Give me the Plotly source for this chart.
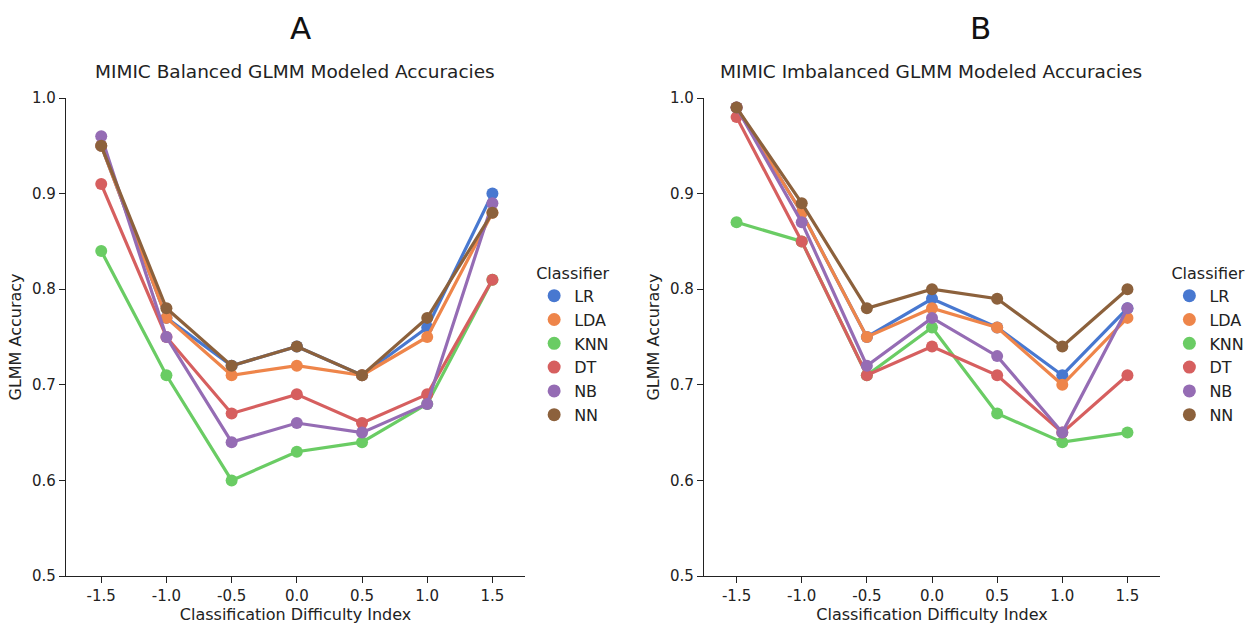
import plotly.graph_objects as go

x_vals = [-1.5, -1.0, -0.5, 0.0, 0.5, 1.0, 1.5]
x_ticks = ["-1.5", "-1.0", "-0.5", "0.0", "0.5", "1.0", "1.5"]
y_vals = [0.5, 0.6, 0.7, 0.8, 0.9, 1.0]
y_ticks = ["0.5", "0.6", "0.7", "0.8", "0.9", "1.0"]
classifiers = ["LR", "LDA", "KNN", "DT", "NB", "NN"]
colors = ["#4878d0", "#ee854a", "#6acc64", "#d65f5f", "#956cb4", "#8c613c"]

balanced = {
    "LR":  [0.95, 0.77, 0.72, 0.74, 0.71, 0.76, 0.90],
    "LDA": [0.95, 0.77, 0.71, 0.72, 0.71, 0.75, 0.88],
    "KNN": [0.84, 0.71, 0.60, 0.63, 0.64, 0.68, 0.81],
    "DT":  [0.91, 0.75, 0.67, 0.69, 0.66, 0.69, 0.81],
    "NB":  [0.96, 0.75, 0.64, 0.66, 0.65, 0.68, 0.89],
    "NN":  [0.95, 0.78, 0.72, 0.74, 0.71, 0.77, 0.88],
}
imbalanced = {
    "LR":  [0.99, 0.88, 0.75, 0.79, 0.76, 0.71, 0.78],
    "LDA": [0.99, 0.88, 0.75, 0.78, 0.76, 0.70, 0.77],
    "KNN": [0.87, 0.85, 0.71, 0.76, 0.67, 0.64, 0.65],
    "DT":  [0.98, 0.85, 0.71, 0.74, 0.71, 0.65, 0.71],
    "NB":  [0.99, 0.87, 0.72, 0.77, 0.73, 0.65, 0.78],
    "NN":  [0.99, 0.89, 0.78, 0.80, 0.79, 0.74, 0.80],
}

FONT = "DejaVu Sans"
fig = go.Figure()

for data, xa, ya, leg in [(balanced, "x", "y", "legend"), (imbalanced, "x2", "y2", "legend2")]:
    for name, col in zip(classifiers, colors):
        fig.add_trace(go.Scatter(
            x=x_vals, y=data[name], mode="lines+markers", xaxis=xa, yaxis=ya,
            line=dict(color=col, width=3.2), marker=dict(color=col, size=12),
            showlegend=False, name=name))
    for name, col in zip(classifiers, colors):
        fig.add_trace(go.Scatter(
            x=[None], y=[None], mode="markers", xaxis=xa, yaxis=ya,
            marker=dict(color=col, size=13), name=name, legend=leg, showlegend=True))

axis_common = dict(showgrid=False, zeroline=False, showline=True, linecolor="#222",
                   linewidth=1.3, ticks="outside", ticklen=6, tickwidth=1.3, tickcolor="#222",
                   automargin=False,
                   tickfont=dict(family=FONT, size=15, color="#222"))

xtitle = dict(text="Classification Difficulty Index", font=dict(size=16), standoff=4)
ytitle = dict(text="GLMM Accuracy", font=dict(size=16), standoff=6)

fig.update_layout(
    width=1248, height=625, margin=dict(l=0, r=0, t=0, b=0, autoexpand=False),
    plot_bgcolor="white", paper_bgcolor="white",
    font=dict(family=FONT, color="#222"),
    xaxis=dict(domain=[0.0529, 0.4207], range=[-1.77, 1.75], tickvals=x_vals, ticktext=x_ticks,
               title=xtitle, anchor="y", **axis_common),
    yaxis=dict(domain=[0.0784, 0.8432], range=[0.5, 1.0], tickvals=y_vals, ticktext=y_ticks,
               title=ytitle, anchor="x", **axis_common),
    xaxis2=dict(domain=[0.5641, 0.9295], range=[-1.75, 1.75], tickvals=x_vals, ticktext=x_ticks,
                title=xtitle, anchor="y2", **axis_common),
    yaxis2=dict(domain=[0.0784, 0.8432], range=[0.5, 1.0], tickvals=y_vals, ticktext=y_ticks,
                title=ytitle, anchor="x2", **axis_common),
    legend=dict(x=0.428, y=1 - 258 / 625, xanchor="left", yanchor="top",
                title=dict(text="Classifier", font=dict(size=16)),
                font=dict(size=16), tracegroupgap=0, itemwidth=30, bgcolor="rgba(0,0,0,0)"),
    legend2=dict(x=0.937, y=1 - 258 / 625, xanchor="left", yanchor="top",
                 title=dict(text="Classifier", font=dict(size=16)),
                 font=dict(size=16), tracegroupgap=0, itemwidth=30, bgcolor="rgba(0,0,0,0)"),
    annotations=[
        dict(text="A", x=300 / 1248, y=1 - 28 / 625, xref="paper", yref="paper",
             xanchor="center", yanchor="middle",
             showarrow=False, font=dict(size=31, family=FONT, color="#111")),
        dict(text="B", x=980 / 1248, y=1 - 28 / 625, xref="paper", yref="paper",
             xanchor="center", yanchor="middle",
             showarrow=False, font=dict(size=31, family=FONT, color="#111")),
        dict(text="MIMIC Balanced GLMM Modeled Accuracies", x=295 / 1248, y=1 - 72 / 625,
             xref="paper", yref="paper", xanchor="center", yanchor="middle",
             showarrow=False, font=dict(size=18.5, family=FONT, color="#222")),
        dict(text="MIMIC Imbalanced GLMM Modeled Accuracies", x=931 / 1248, y=1 - 72 / 625,
             xref="paper", yref="paper", xanchor="center", yanchor="middle",
             showarrow=False, font=dict(size=18.5, family=FONT, color="#222")),
    ],
)

fig.write_html("out.html")
